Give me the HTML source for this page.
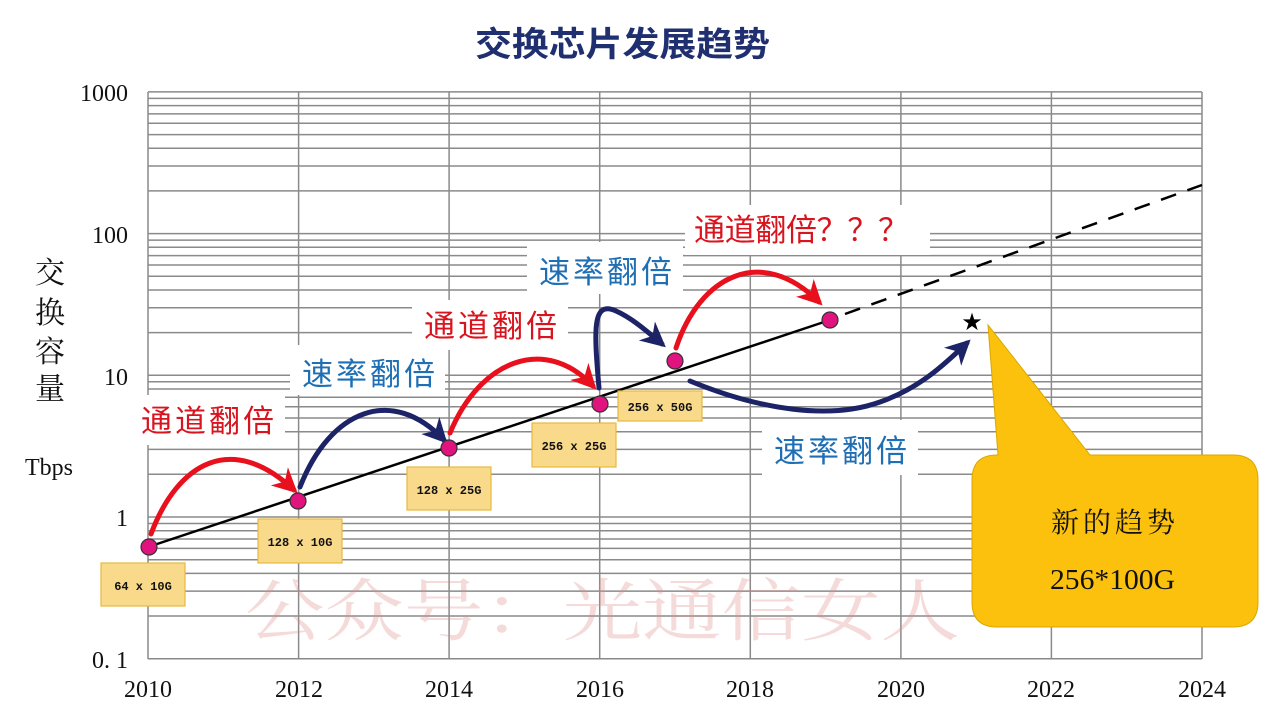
<!DOCTYPE html>
<html><head><meta charset="utf-8"><style>
html,body{margin:0;padding:0;background:#fff;}
svg{display:block;}
</style></head><body>
<svg width="1280" height="720" viewBox="0 0 1280 720" xmlns="http://www.w3.org/2000/svg">
<defs>
<marker id="ar" viewBox="0 0 10 10" refX="8" refY="5" markerWidth="5" markerHeight="5" orient="auto" markerUnits="strokeWidth"><path d="M0,0 L10,5 L0,10 L3,5 z" fill="#e8101c"/></marker>
<marker id="ab" viewBox="0 0 10 10" refX="8" refY="5" markerWidth="5" markerHeight="5" orient="auto" markerUnits="strokeWidth"><path d="M0,0 L10,5 L0,10 L3,5 z" fill="#1c2366"/></marker>
</defs>
<rect width="1280" height="720" fill="#fff"/>
<text x="475" y="56" textLength="295" lengthAdjust="spacingAndGlyphs" font-family="Liberation Sans,'Noto Sans CJK SC',sans-serif" font-size="34" font-weight="bold" fill="#1f2f6f">交换芯片发展趋势</text>
<path stroke="#8a8a8a" stroke-width="1.5" fill="none" d="
M148,658.7H1202 M148,616H1202 M148,591.1H1202 M148,573.4H1202 M148,559.7H1202 M148,548.4H1202 M148,539H1202 M148,530.7H1202 M148,523.5H1202
M148,517H1202 M148,474.3H1202 M148,449.4H1202 M148,431.7H1202 M148,418H1202 M148,406.7H1202 M148,397.3H1202 M148,389H1202 M148,381.8H1202
M148,375.3H1202 M148,332.6H1202 M148,307.7H1202 M148,290H1202 M148,276.3H1202 M148,265H1202 M148,255.6H1202 M148,247.3H1202 M148,240.1H1202
M148,233.6H1202 M148,190.9H1202 M148,166H1202 M148,148.3H1202 M148,134.6H1202 M148,123.3H1202 M148,113.9H1202 M148,105.6H1202 M148,98.4H1202
M148,91.9H1202
M148,92V659 M298.6,92V659 M449.1,92V659 M599.7,92V659 M750.3,92V659 M900.9,92V659 M1051.4,92V659 M1202,92V659"/>
<g font-family="Liberation Serif,serif" font-size="24" fill="#111">
<text x="128" y="101" text-anchor="end">1000</text>
<text x="128" y="243" text-anchor="end">100</text>
<text x="128" y="385" text-anchor="end">10</text>
<text x="128" y="526" text-anchor="end">1</text>
<text x="128" y="668" text-anchor="end">0. 1</text>
<text x="148" y="697" text-anchor="middle">2010</text>
<text x="299" y="697" text-anchor="middle">2012</text>
<text x="449" y="697" text-anchor="middle">2014</text>
<text x="600" y="697" text-anchor="middle">2016</text>
<text x="750" y="697" text-anchor="middle">2018</text>
<text x="901" y="697" text-anchor="middle">2020</text>
<text x="1051" y="697" text-anchor="middle">2022</text>
<text x="1202" y="697" text-anchor="middle">2024</text>
<text x="49" y="475" text-anchor="middle">Tbps</text>
</g>
<g font-family="Liberation Serif,'Noto Serif CJK SC',serif" font-size="30" fill="#111" text-anchor="middle">
<text x="50" y="283">交</text><text x="50" y="323">换</text><text x="50" y="362">容</text><text x="50" y="399">量</text>
</g>
<text x="245" y="635" textLength="715" lengthAdjust="spacingAndGlyphs" font-family="'Noto Serif CJK SC',serif" font-size="68" fill="rgba(225,140,140,0.32)">公众号：光通信女人</text>
<g fill="#fff">
<rect x="130" y="395" width="155" height="50"/>
<rect x="290" y="345" width="155" height="50"/>
<rect x="412" y="300" width="156" height="50"/>
<rect x="527" y="242" width="156" height="52"/>
<rect x="685" y="205" width="245" height="50"/>
<rect x="762" y="420" width="156" height="55"/>
</g>
<g font-family="'Noto Sans CJK SC',sans-serif" font-size="31">
<text x="141" y="432" textLength="133" lengthAdjust="spacing" fill="#d8141e">通道翻倍</text>
<text x="302" y="385" textLength="133" lengthAdjust="spacing" fill="#1f6fb5">速率翻倍</text>
<text x="424" y="337" textLength="133" lengthAdjust="spacing" fill="#d8141e">通道翻倍</text>
<text x="539" y="283" textLength="133" lengthAdjust="spacing" fill="#1f6fb5">速率翻倍</text>
<text x="694" y="241" textLength="215" lengthAdjust="spacing" fill="#d8141e">通道翻倍？？？</text>
<text x="774" y="462" textLength="133" lengthAdjust="spacing" fill="#1f6fb5">速率翻倍</text>
</g>
<line x1="148" y1="547" x2="830" y2="320" stroke="#000" stroke-width="2.5"/>
<line x1="845" y1="314" x2="1202" y2="185" stroke="#000" stroke-width="2.5" stroke-dasharray="16,12"/>
<g fill="none" stroke-width="5" stroke-linecap="round">
<path d="M151,534 C178,462 232,432 294,490" stroke="#e8101c" marker-end="url(#ar)"/>
<path d="M300,487 C330,410 392,385 444,440" stroke="#1c2366" marker-end="url(#ab)"/>
<path d="M450,433 C480,360 545,335 593,386" stroke="#e8101c" marker-end="url(#ar)"/>
<path d="M599,388 C594,330 592,300 616,311 C632,318 648,332 662,344" stroke="#1c2366" marker-end="url(#ab)"/>
<path d="M676,348 C700,275 762,245 819,302" stroke="#e8101c" marker-end="url(#ar)"/>
<path d="M690,381 C760,410 830,420 880,402 C920,388 945,364 967,343" stroke="#1c2366" marker-end="url(#ab)"/>
</g>
<g fill="#e0137f" stroke="#333" stroke-width="1.2">
<circle cx="149" cy="547" r="8"/><circle cx="298" cy="501" r="8"/><circle cx="449" cy="448" r="8"/>
<circle cx="600" cy="404" r="8"/><circle cx="675" cy="361" r="8"/><circle cx="830" cy="320" r="8"/>
</g>
<text x="972" y="330" text-anchor="middle" font-size="24" fill="#000">★</text>
<g fill="#f9d98a" stroke="#e8b93f" stroke-width="1.2">
<rect x="101" y="563" width="84" height="43"/>
<rect x="258" y="519" width="84" height="44"/>
<rect x="407" y="467" width="84" height="43"/>
<rect x="532" y="423" width="84" height="44"/>
<rect x="618" y="391" width="84" height="30"/>
</g>
<g font-family="Liberation Mono,monospace" font-size="12" font-weight="bold" fill="#111" text-anchor="middle">
<text x="143" y="590">64 x 10G</text>
<text x="300" y="546">128 x 10G</text>
<text x="449" y="494">128 x 25G</text>
<text x="574" y="450">256 x 25G</text>
<text x="660" y="411">256 x 50G</text>
</g>
<path d="M998,455 L988,325 L1090,455 L1233,455 Q1258,455 1258,480 L1258,602 Q1258,627 1233,627 L997,627 Q972,627 972,602 L972,480 Q972,455 997,455 Z" fill="#fbc10c" stroke="#d9a800" stroke-width="1"/>
<text x="1051" y="532" textLength="124" lengthAdjust="spacing" font-family="Liberation Serif,'Noto Serif CJK SC',serif" font-size="28" fill="#111">新的趋势</text>
<text x="1050" y="589" textLength="125" lengthAdjust="spacingAndGlyphs" font-family="Liberation Serif,serif" font-size="28" fill="#111">256*100G</text>
</svg>
</body></html>
